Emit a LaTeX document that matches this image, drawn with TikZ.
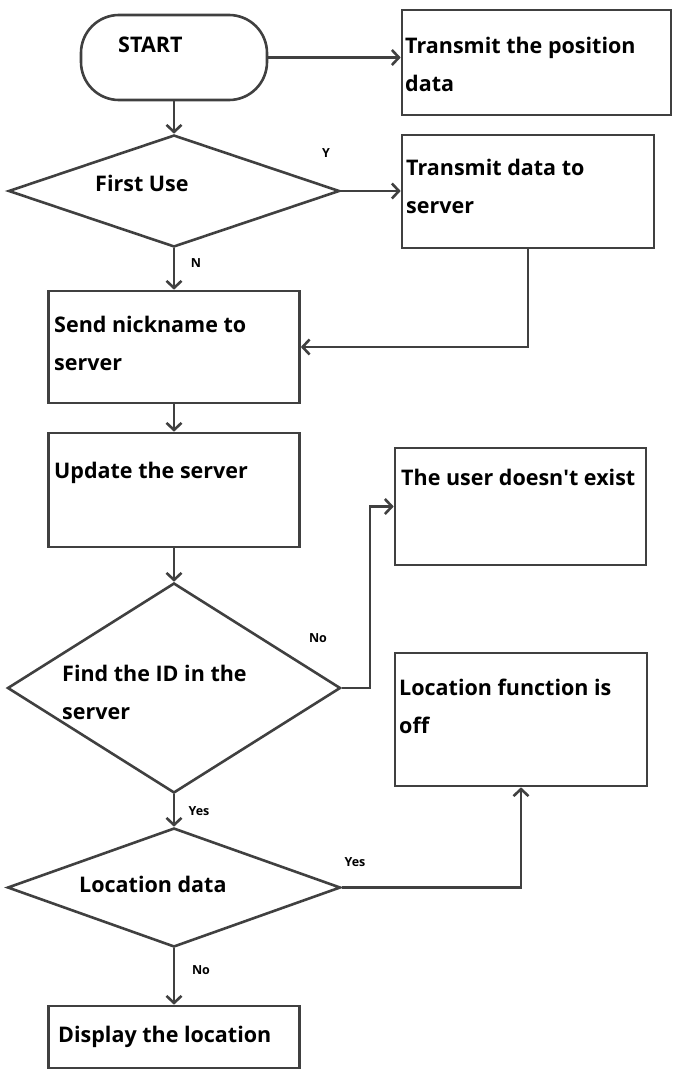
\documentclass[tikz,border=0pt]{standalone}
\usepackage{fontspec}
\setmainfont{Open Sans}
\usetikzlibrary{shapes.geometric,arrows.meta}
\definecolor{linegray}{HTML}{404040}
\tikzset{
  procbox/.style 2 args={draw=linegray, line width=2.6pt, rectangle, inner sep=0pt,
    minimum width=#1, minimum height=#2},
  decbox/.style 2 args={draw=linegray, line width=2.6pt, diamond, inner sep=0pt,
    minimum width=#1, minimum height=#2},
  txt/.style={inner sep=0pt, align=left, anchor=base west,
    font=\fontsize{21.5}{38}\selectfont\bfseries},
  lbl/.style={inner sep=0pt, font=\fontsize{12.5}{14}\selectfont\bfseries},
  arr/.style={draw=linegray, line width=2.6pt, -{Straight Barb[length=7pt,width=15pt]}}
}
\begin{document}
\begin{tikzpicture}[x=1pt, y=-1pt]
        \useasboundingbox (0,0) rectangle (672,1070);
        % shapes
        \node[procbox={186pt}{85pt}, rounded corners=38pt] (start) at (174,57.5) {};
        \node[procbox={269pt}{105pt}] (tpos) at (536.5,62.5) {};
        \node[decbox={331pt}{112pt}] (first) at (174,191) {};
        \node[procbox={252pt}{113pt}] (tdata) at (528,191.5) {};
        \node[procbox={251pt}{112pt}] (send) at (174,347) {};
        \node[procbox={251pt}{114pt}] (update) at (174,490) {};
        \node[procbox={251pt}{117pt}] (user) at (520.5,506.5) {};
        \node[decbox={333pt}{210pt}] (find) at (174,688) {};
        \node[procbox={252pt}{133pt}] (locoff) at (521,719.5) {};
        \node[decbox={333pt}{119pt}] (locdata) at (174,887.5) {};
        \node[procbox={251pt}{62pt}] (display) at (174,1037) {};
        % texts (base = last line)
        \node[txt] (t-start) at (118,53) {START};
        \node[txt] (t-tpos) at (405,92) {Transmit the position\\data};
        \node[txt] (t-first) at (95,191) {First Use};
        \node[txt] (t-tdata) at (406,213) {Transmit data to\\server};
        \node[txt] (t-send) at (54,370) {Send nickname to\\server};
        \node[txt] (t-update) at (54,478) {Update the server};
        \node[txt] (t-user) at (401,485) {The user doesn\textquotesingle t exist};
        \node[txt] (t-find) at (62,719) {Find the ID in the\\server};
        \node[txt] (t-locoff) at (399,733) {Location function is\\off};
        \node[txt] (t-locdata) at (79,892) {Location data};
        \node[txt] (t-display) at (58,1042) {Display the location};
        % arrows
        \draw[arr] (start.east) -- (start.east -| tpos.west);
        \draw[arr] (start.south) -- (first.north);
        \draw[arr] (first.east) -- (first.east -| tdata.west);
        \draw[arr] (first.south) -- (send.north);
        \draw[arr] (tdata.south) |- (send.east);
        \draw[arr] (send.south) -- (update.north);
        \draw[arr] (update.south) -- (find.north);
        \draw[arr] (find.east) -- ++(28,0) |- (user.west);
        \draw[arr] (find.south) -- (locdata.north);
        \draw[arr] (locdata.east) -| (locoff.south);
        \draw[arr] (locdata.south) -- (display.north);
        % labels
        \node[lbl] (l-y) at (326,153) {Y};
        \node[lbl] (l-n) at (196,263) {N};
        \node[lbl] (l-no1) at (318,638) {No};
        \node[lbl] (l-yes1) at (199,811) {Yes};
        \node[lbl] (l-yes2) at (355,862) {Yes};
        \node[lbl] (l-no2) at (201,970) {No};
    \end{tikzpicture}
\end{document}
